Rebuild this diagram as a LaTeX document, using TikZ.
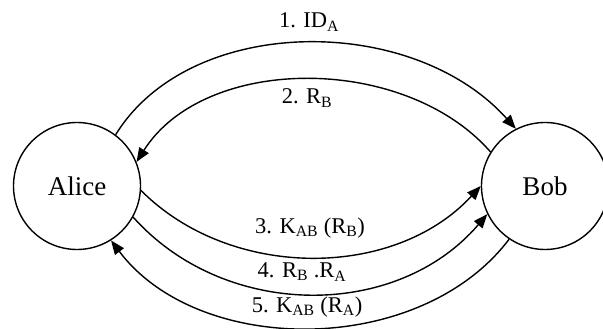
\documentclass[tikz,border=0pt]{standalone}
\usepackage{fontspec}
\setmainfont{Liberation Serif}
\usetikzlibrary{arrows.meta}
\tikzset{
  party/.style={circle, draw, line width=1.4pt, minimum size=127pt, inner sep=0pt, font=\fontsize{27}{30}\selectfont},
  msg/.style={line width=1.4pt, -{Triangle[length=14pt,width=11pt]}},
  lbl/.style={inner sep=0pt, font=\fontsize{22.5}{26}\selectfont}
}
\begin{document}
\begin{tikzpicture}[x=1pt,y=1pt]
\useasboundingbox (0,0) rectangle (603,329);
\node[party] (alice) at (77,143) {Alice};
\node[party] (bob) at (545,143) {Bob};
\draw[msg] (alice.53) .. controls (190,315) and (412,316) .. (bob.117);
\draw[msg] (bob.148) .. controls (405,275) and (205,275) .. (alice.22);
\draw[msg] (alice.-4) .. controls (230,49) and (394,49) .. (bob.180);
\draw[msg] (alice.-29) .. controls (225,9) and (397,9) .. (bob.206);
\draw[msg] (bob.236) .. controls (420,-28) and (199,-28) .. (alice.-58);
\node[lbl] (l1) at (309,307) {1. ID\textsubscript{A}};
\node[lbl] (l2) at (307,231) {2. R\textsubscript{B}};
\node[lbl] (l3) at (310,101) {3. K\textsubscript{AB} (R\textsubscript{B})};
\node[lbl] (l4) at (302,57) {4. R\textsubscript{B} .R\textsubscript{A}};
\node[lbl] (l5) at (307,22) {5. K\textsubscript{AB} (R\textsubscript{A})};
\end{tikzpicture}
\end{document}
